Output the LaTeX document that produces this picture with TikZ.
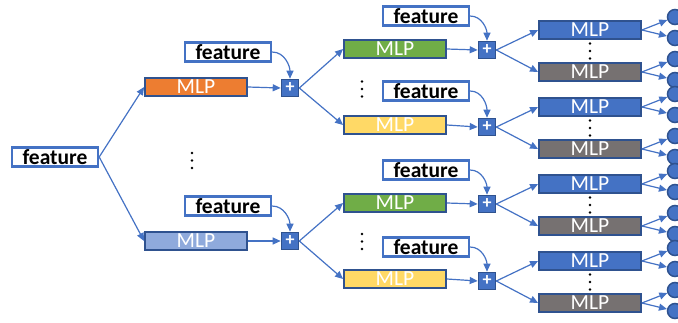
\documentclass[tikz,border=0pt]{standalone}
\usepackage{fontspec}
\setmainfont{Carlito}
\usetikzlibrary{arrows.meta}
\definecolor{azul}{HTML}{4472C4}
\definecolor{azulosc}{HTML}{2F528F}
\definecolor{naranja}{HTML}{ED7D31}
\definecolor{celeste}{HTML}{8FAADC}
\definecolor{verde}{HTML}{70AD47}
\definecolor{amarillo}{HTML}{FFD966}
\definecolor{gris}{HTML}{767171}
\tikzset{
  mlp/.style={draw=azulosc,line width=1.8pt,minimum width=102pt,minimum height=18pt,inner sep=0pt,text=white,font=\fontsize{21.5}{21.5}\selectfont},
  feat/.style={draw=azul,fill=white,line width=2.4pt,minimum width=86pt,minimum height=19pt,inner sep=0pt,font=\fontsize{21.5}{21.5}\selectfont\bfseries},
  suma/.style={draw=azulosc,fill=azul,line width=1.6pt,minimum size=17pt,inner sep=0pt,text=white,font=\fontsize{18}{18}\selectfont\bfseries},
  salida/.style={circle,draw=azulosc,fill=azul,line width=1.5pt,minimum size=15pt,inner sep=0pt},
  flecha/.style={azul,line width=1.2pt,-{Triangle[length=8pt,width=7pt]}}
}
\begin{document}
\begin{tikzpicture}[x=1pt,y=-1pt]
\useasboundingbox (0,0) rectangle (678,322);
% Entrada y primer nivel
\node[feat] (f0) at (55,157) {feature};
\node[mlp,fill=naranja] (a1) at (196,87) {MLP};
\node[mlp,fill=celeste] (a2) at (196,241) {MLP};
\node[feat] (f1) at (228,52) {feature};
\node[feat] (f2) at (228,206) {feature};
\node[suma] (s1) at (290,88) {+};
\node[suma] (s2) at (290,241) {+};
\draw[flecha] (f0.east) -- (a1.west);
\draw[flecha] (f0.east) -- (a2.west);
\draw[flecha] (a1.east) -- (s1.west);
\draw[flecha] (a2.east) -- (s2.west);
\draw[flecha] (f1.east) to[out=0,in=90] (s1.north);
\draw[flecha] (f2.east) to[out=0,in=90] (s2.north);
\fill (192,153) circle (1.3) (192,160.5) circle (1.3) (192,168) circle (1.3);
% Segundo nivel
\node[mlp,fill=verde] (b1) at (395,49) {MLP};
\node[mlp,fill=amarillo] (b2) at (395,125) {MLP};
\node[mlp,fill=verde] (b3) at (395,203) {MLP};
\node[mlp,fill=amarillo] (b4) at (395,279) {MLP};
\node[feat] (g1) at (426,16) {feature};
\node[feat] (g2) at (426,91) {feature};
\node[feat] (g3) at (426,170) {feature};
\node[feat] (g4) at (426,247) {feature};
\node[suma] (t1) at (487,50) {+};
\node[suma] (t2) at (487,127) {+};
\node[suma] (t3) at (487,204) {+};
\node[suma] (t4) at (487,281) {+};
\draw[flecha] (s1.east) -- (b1.west);
\draw[flecha] (s1.east) -- (b2.west);
\draw[flecha] (s2.east) -- (b3.west);
\draw[flecha] (s2.east) -- (b4.west);
\draw[flecha] (b1.east) -- (t1.west);
\draw[flecha] (b2.east) -- (t2.west);
\draw[flecha] (b3.east) -- (t3.west);
\draw[flecha] (b4.east) -- (t4.west);
\draw[flecha] (g1.east) to[out=0,in=90] (t1.north);
\draw[flecha] (g2.east) to[out=0,in=90] (t2.north);
\draw[flecha] (g3.east) to[out=0,in=90] (t3.north);
\draw[flecha] (g4.east) to[out=0,in=90] (t4.north);
\fill (362,81.5) circle (1.3) (362,89) circle (1.3) (362,96.5) circle (1.3);
\fill (362,234) circle (1.3) (362,241.5) circle (1.3) (362,249) circle (1.3);
% Tercer nivel
\node[mlp,fill=azul] (c1) at (590,30) {MLP};
\node[mlp,fill=gris] (c2) at (590,72) {MLP};
\node[mlp,fill=azul] (c3) at (590,107) {MLP};
\node[mlp,fill=gris] (c4) at (590,149) {MLP};
\node[mlp,fill=azul] (c5) at (590,184) {MLP};
\node[mlp,fill=gris] (c6) at (590,226) {MLP};
\node[mlp,fill=azul] (c7) at (590,261) {MLP};
\node[mlp,fill=gris] (c8) at (590,303) {MLP};
\draw[flecha] (t1.east) -- (c1.west);
\draw[flecha] (t1.east) -- (c2.west);
\draw[flecha] (t2.east) -- (c3.west);
\draw[flecha] (t2.east) -- (c4.west);
\draw[flecha] (t3.east) -- (c5.west);
\draw[flecha] (t3.east) -- (c6.west);
\draw[flecha] (t4.east) -- (c7.west);
\draw[flecha] (t4.east) -- (c8.west);
\fill (590,43.5) circle (1.3) (590,51) circle (1.3) (590,58.5) circle (1.3);
\fill (590,120.5) circle (1.3) (590,128) circle (1.3) (590,135.5) circle (1.3);
\fill (590,197.5) circle (1.3) (590,205) circle (1.3) (590,212.5) circle (1.3);
\fill (590,274.5) circle (1.3) (590,282) circle (1.3) (590,289.5) circle (1.3);
% Salidas
\node[salida] (o1) at (675,17) {};  \node[salida] (o2) at (675,38) {};
\node[salida] (o3) at (675,59) {};  \node[salida] (o4) at (675,80) {};
\node[salida] (o5) at (675,94) {};  \node[salida] (o6) at (675,115) {};
\node[salida] (o7) at (675,136) {}; \node[salida] (o8) at (675,157) {};
\node[salida] (o9) at (675,171) {}; \node[salida] (o10) at (675,192) {};
\node[salida] (o11) at (675,213) {}; \node[salida] (o12) at (675,234) {};
\node[salida] (o13) at (675,248) {}; \node[salida] (o14) at (675,269) {};
\node[salida] (o15) at (675,290) {}; \node[salida] (o16) at (675,311) {};
\draw[flecha] (c1.east) -- (o1);  \draw[flecha] (c1.east) -- (o2);
\draw[flecha] (c2.east) -- (o3);  \draw[flecha] (c2.east) -- (o4);
\draw[flecha] (c3.east) -- (o5);  \draw[flecha] (c3.east) -- (o6);
\draw[flecha] (c4.east) -- (o7);  \draw[flecha] (c4.east) -- (o8);
\draw[flecha] (c5.east) -- (o9);  \draw[flecha] (c5.east) -- (o10);
\draw[flecha] (c6.east) -- (o11); \draw[flecha] (c6.east) -- (o12);
\draw[flecha] (c7.east) -- (o13); \draw[flecha] (c7.east) -- (o14);
\draw[flecha] (c8.east) -- (o15); \draw[flecha] (c8.east) -- (o16);
\end{tikzpicture}
\end{document}
